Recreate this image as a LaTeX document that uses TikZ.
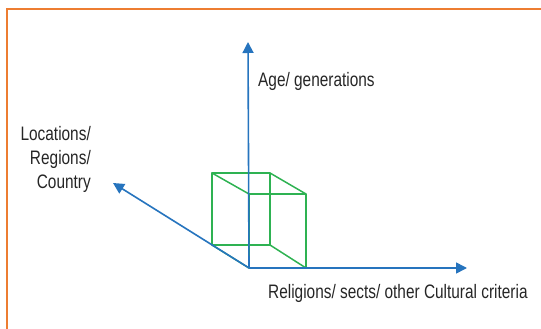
\documentclass[tikz,border=0pt]{standalone}
\usepackage{fontspec}
\setmainfont{Liberation Sans}[FakeStretch=0.79]
\usetikzlibrary{arrows.meta,positioning}
\definecolor{axisblue}{RGB}{38,116,190}
\definecolor{cubegreen}{RGB}{46,178,82}
\definecolor{frameorange}{RGB}{237,125,49}

\begin{document}
\begin{tikzpicture}[x=1pt,y=-1pt,>={Triangle[length=11pt,width=11pt]},
  axis/.style={->,draw=axisblue,line width=1.6pt},
  cubeedge/.style={draw=cubegreen,line width=1.5pt,line join=round},
  axistext/.style={font=\fontsize{19.5}{24}\selectfont,text=black!85,inner sep=0pt}]
  \useasboundingbox (0,0) rectangle (541,329);
  \clip (0,0) rectangle (541,329);
  \draw[frameorange,line width=2pt] (7,9) rectangle (560,350);

  % axes end points
  \coordinate (o) at (249,268);
  \coordinate (ytip) at (248,42);
  \coordinate (xtip) at (467,268);
  \coordinate (ztip) at (113,183);

  % cube corners: back square b, front square f
  \coordinate (b1) at (212,173);
  \coordinate (b2) at (270,173);
  \coordinate (b3) at (270,245);
  \coordinate (b4) at (212,245);
  \coordinate (f1) at (249,194);
  \coordinate (f2) at (306,194);
  \coordinate (f3) at (306,268);

  \draw[cubeedge] (b1) -- (b2) -- (b3) -- (b4) -- cycle;
  \draw[cubeedge] (f1) -- (f2) -- (f3) -- (o) -- cycle;
  \draw[cubeedge] (b1) -- (f1);
  \draw[cubeedge] (b2) -- (f2);
  \draw[cubeedge] (b3) -- (f3);
  \draw[cubeedge] (b4) -- (o);

  \draw[axis] (o) -- (ytip);
  \draw[axis] (o) -- (xtip);
  \draw[axis] (o) -- (ztip);

  \node[axistext,anchor=base west] (age) at (258,86) {Age/ generations};
  \node[axistext,anchor=base west] (rel) at (268,298) {Religions/ sects/ other Cultural criteria};
  \node[axistext,anchor=north east,align=right] (loc) at (91,126) {Locations/\\Regions/\\Country};
\end{tikzpicture}
\end{document}
